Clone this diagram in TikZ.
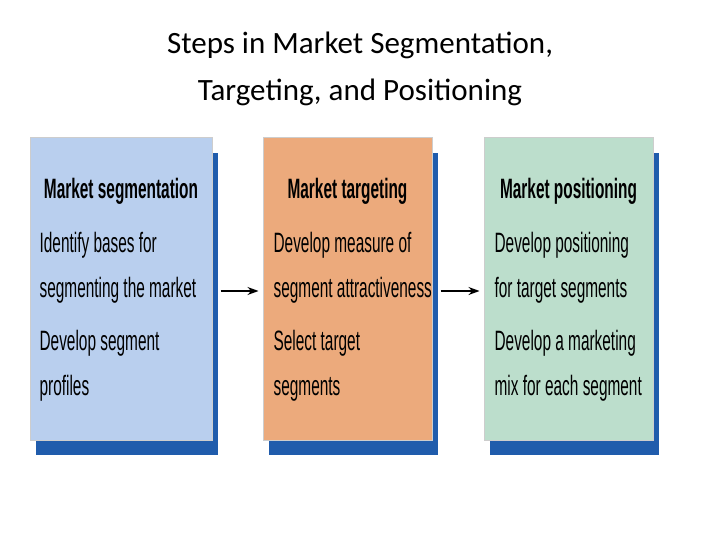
\documentclass[tikz,border=0pt]{standalone}
\usepackage{fontspec}
\setmainfont{Carlito}
\newfontfamily\narrowfont{Liberation Sans}
\usetikzlibrary{positioning,arrows.meta}
\definecolor{segblue}{RGB}{185,207,238}
\definecolor{tgtorange}{RGB}{236,170,124}
\definecolor{posgreen}{RGB}{188,222,204}
\definecolor{shadowblue}{RGB}{32,92,172}
\definecolor{edgegray}{RGB}{205,205,205}
\tikzset{
  stepbox/.style={draw=edgegray, line width=1pt, minimum height=302pt, inner sep=0pt},
  shadowbox/.style={fill=shadowblue, minimum height=302pt, inner sep=0pt},
  headtxt/.style={font=\narrowfont\bfseries\fontsize{28}{30}\selectfont, xscale=0.55, transform shape},
  bodytxt/.style={font=\narrowfont\fontsize{28}{45}\selectfont, xscale=0.55, transform shape, align=left, anchor=north west, inner sep=0pt},
  flow/.style={-{Stealth[length=11pt,width=8pt]}, line width=1.1pt}
}
\begin{document}
\begin{tikzpicture}[x=1pt, y=-1pt]
\useasboundingbox (0,0) rectangle (720,540);
% title
\node (title) at (360,69) [align=center, font=\fontsize{31}{47}\selectfont]
  {Steps in Market Segmentation,\\Targeting, and Positioning};
% shadows
\node[shadowbox, minimum width=182pt] (segsh) at (127,304) {};
\node[shadowbox, minimum width=169pt] (tgtsh) at (353.5,304) {};
\node[shadowbox, minimum width=169pt] (possh) at (574.5,304) {};
% boxes
\node[stepbox, fill=segblue, minimum width=182pt] (seg) at (121,289) {};
\node[stepbox, fill=tgtorange, minimum width=169pt] (tgt) at (347.5,289) {};
\node[stepbox, fill=posgreen, minimum width=169pt] (pos) at (568.5,289) {};
% headings
\node[headtxt] (seghead) at ([yshift=-54pt]seg.north) {Market segmentation};
\node[headtxt] (tgthead) at ([yshift=-54pt]tgt.north) {Market targeting};
\node[headtxt] (poshead) at ([yshift=-54pt]pos.north) {Market positioning};
% bodies
\node[bodytxt] (segone) at ([xshift=10pt,yshift=-95pt]seg.north west) {Identify bases for\\segmenting the market};
\node[bodytxt] (segtwo) at ([xshift=10pt,yshift=-193pt]seg.north west) {Develop segment\\profiles};
\node[bodytxt] (tgtone) at ([xshift=11pt,yshift=-95pt]tgt.north west) {Develop measure of\\segment attractiveness};
\node[bodytxt] (tgttwo) at ([xshift=11pt,yshift=-193pt]tgt.north west) {Select target\\segments};
\node[bodytxt] (posone) at ([xshift=11pt,yshift=-95pt]pos.north west) {Develop positioning\\for target segments};
\node[bodytxt] (postwo) at ([xshift=11pt,yshift=-193pt]pos.north west) {Develop a marketing\\mix for each segment};
% arrows
\draw[flow] ([xshift=8pt,yshift=-2pt]seg.east) -- ([xshift=-4pt,yshift=-2pt]tgt.west);
\draw[flow] ([xshift=8pt,yshift=-2pt]tgt.east) -- ([xshift=-4pt,yshift=-2pt]pos.west);
\end{tikzpicture}
\end{document}
